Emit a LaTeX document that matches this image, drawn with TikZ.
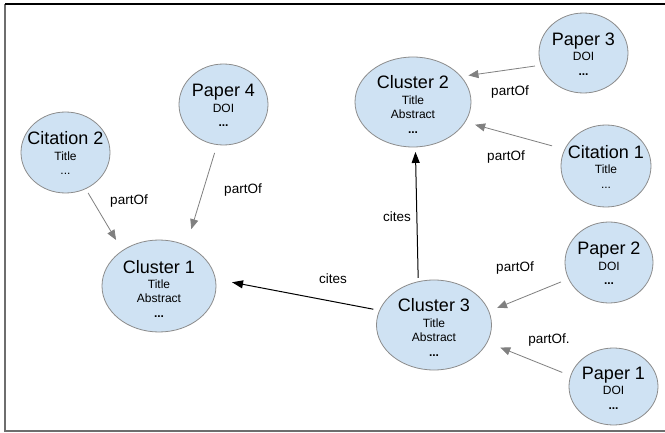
\documentclass[tikz,border=0pt]{standalone}
\usepackage{fontspec}
\setmainfont{Liberation Sans}
\usetikzlibrary{arrows.meta,shapes.geometric}
\definecolor{bubblefill}{RGB}{207,226,243}
\definecolor{bubbleline}{RGB}{140,140,140}
\definecolor{partgray}{RGB}{128,128,128}
\definecolor{framegray}{RGB}{110,110,110}
\newcommand{\bubbletxt}[2]{\makebox[0pt]{\begin{tabular}[t]{@{}c@{}}{\fontsize{18}{18}\selectfont #1}\\[1pt] #2\end{tabular}}}
\begin{document}
\begin{tikzpicture}[x=1pt,y=-1pt,
  bubble/.style={ellipse, draw=bubbleline, line width=0.8pt, fill=bubblefill,
    inner sep=0pt, outer sep=0pt, font=\fontsize{12}{14.5}\selectfont, text height=0pt},
  fourline/.style={bubble, text depth=26pt},
  threeline/.style={bubble, text depth=15pt},
  partof/.style={draw=partgray, line width=0.8pt, -{Triangle[length=10pt,width=8pt]}},
  citeline/.style={draw=black, line width=1pt, -{Triangle[length=11pt,width=8pt]}},
  lbl/.style={inner sep=0pt, font=\fontsize{13.5}{15}\selectfont}]
\fill[white] (0,0) rectangle (665,433);
\useasboundingbox (0,0) rectangle (665,433);
% frame
\draw[framegray, line width=2pt] (5,4) -- (5,431) -- (665,431);
\draw[black, line width=1.5pt] (5,4) -- (665,4);
% nodes
\node[threeline, minimum width=89pt, minimum height=81pt] (cit2) at (65.5,152.5) {\bubbletxt{Citation 2}{Title\\...}};
\node[threeline, minimum width=89pt, minimum height=81pt] (p4) at (223.5,104.5) {\bubbletxt{Paper 4}{DOI\\\textbf{...}}};
\node[fourline, minimum width=114pt, minimum height=92pt] (cl1) at (159,286) {\bubbletxt{Cluster 1}{Title\\Abstract\\\textbf{...}}};
\node[fourline, minimum width=116pt, minimum height=90pt] (cl2) at (413,102) {\bubbletxt{Cluster 2}{Title\\Abstract\\\textbf{...}}};
\node[threeline, minimum width=89pt, minimum height=80pt] (p3) at (583.5,53) {\bubbletxt{Paper 3}{DOI\\\textbf{...}}};
\node[threeline, minimum width=90pt, minimum height=82pt] (cit1) at (606,166) {\bubbletxt{Citation 1}{Title\\...}};
\node[fourline, minimum width=115pt, minimum height=90pt] (cl3) at (434,325) {\bubbletxt{Cluster 3}{Title\\Abstract\\\textbf{...}}};
\node[threeline, minimum width=88pt, minimum height=81pt] (p2) at (609,262.5) {\bubbletxt{Paper 2}{DOI\\\textbf{...}}};
\node[threeline, minimum width=89pt, minimum height=77pt] (p1) at (613.5,386.5) {\bubbletxt{Paper 1}{DOI\\\textbf{...}}};
% connectors
\draw[partof, shorten <=5pt, shorten >=12.5pt] (cit2.-61.2) -- (cl1.136.1);
\draw[partof, shorten <=8.75pt, shorten >=17.2pt] (p4.261.7) -- (cl1.56.5);
\draw[citeline, shorten <=6.4pt, shorten >=17pt] (cl3.165.9) -- (cl1.7.4);
\draw[citeline, shorten <=3.8pt, shorten >=5pt] (cl3.110.2) -- (cl2.-87.6);
\draw[partof, shorten <=6.2pt, shorten >=7.7pt] (p3.196) -- (cl2.28.7);
\draw[partof, shorten <=13.3pt, shorten >=10.5pt] (cit1.158.2) -- (cl2.-21.3);
\draw[partof, shorten <=8.35pt, shorten >=8.9pt] (p2.202.1) -- (cl3.14.0);
\draw[partof, shorten <=9.2pt, shorten >=14.15pt] (p1.166.8) -- (cl3.-18.5);
% labels
\node[lbl] (lab1) at (129,201) {partOf};
\node[lbl] (lab2) at (243,190) {partOf};
\node[lbl] (lab3) at (333,279) {cites};
\node[lbl] (lab4) at (397,217) {cites};
\node[lbl] (lab5) at (510,92) {partOf};
\node[lbl] (lab6) at (506,157) {partOf};
\node[lbl] (lab7) at (515,268) {partOf};
\node[lbl] (lab8) at (549,340) {partOf.};
\end{tikzpicture}
\end{document}
